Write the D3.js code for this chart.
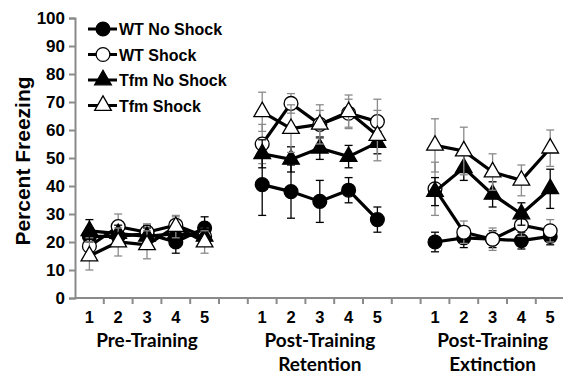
<!DOCTYPE html>
<html>
<head>
<meta charset="utf-8">
<script src="https://cdn.jsdelivr.net/npm/d3@7"></script>
<style>
  body { margin: 0; background: #fff; }
  svg { display: block; }
  .tick text { font-family: "Liberation Sans", Arial, sans-serif; font-weight: bold; }
</style>
</head>
<body>
<div class="container"></div>
<script>
// sessions within each phase, and the phase names under the axis
var sessions = ['1', '2', '3', '4', '5'];
var phases = [['Pre-Training'], ['Post-Training', 'Retention'], ['Post-Training', 'Extinction']];
var seriesNames = ['WT No Shock', 'WT Shock', 'Tfm No Shock', 'Tfm Shock'];
var yTicks = [0, 10, 20, 30, 40, 50, 60, 70, 80, 90, 100];

// percent freezing, 15 values each (3 phases x 5 sessions)
var wtNoShock      = [22, 22, 23, 20, 25,   40.5, 38, 34.5, 38.5, 28,   20, 21.5, 21, 20.5, 22];
var wtNoShockErr   = [3, 3, 3, 4, 4,        11, 9.5, 7.5, 4.5, 4.5,     3.5, 3.5, 3, 3, 3];
var wtShock        = [18.5, 25.5, 23.5, 26, 22,  55, 69.5, 62, 66, 63,  39, 23.5, 21, 26, 24];
var wtShockErr     = [3, 4.5, 3, 3, 3,      7, 3.5, 5, 5, 8,            9.5, 4, 4, 4, 4];
var tfmNoShock     = [24, 23, 22, 23, 22,   51.5, 49.5, 53.5, 50.5, 55.5,  38, 46.5, 37, 30, 39];
var tfmNoShockErr  = [4, 3, 3, 3, 3,        5, 4.5, 4, 4, 4,            5, 4.5, 4.5, 4, 7];
var tfmShock       = [15, 20, 19, 25.5, 20, 66.5, 60.5, 62, 66.5, 58,  54.5, 52.5, 45, 42, 53.5];
var tfmShockErr    = [5, 5, 5, 4, 4,        7, 8.5, 7, 6, 9,            9.5, 8.5, 6.5, 5.5, 6.5];

var width = 563, height = 374;
var svg = d3.select('.container').append('svg')
  .attr('width', width)
  .attr('height', height);

// 17 slots: 5 sessions, gap, 5 sessions, gap, 5 sessions
var slots = d3.range(17);
var x = d3.scaleBand().domain(slots).range([75, 75 + 17 * 28.8]);
var y = d3.scaleLinear().domain([0, 100]).range([298, 18]);

function slotOf(i) { return Math.floor(i / 5) * 6 + (i % 5); }
function cx(i) { return x(slotOf(i)) + x.bandwidth() / 2; }

// y axis
var yAxis = svg.append('g')
  .attr('transform', 'translate(75,0)')
  .call(d3.axisLeft(y).tickValues(yTicks).tickSize(6).tickPadding(4));
yAxis.selectAll('.tick text').style('font-size', '17px').attr('fill', '#000');

// x axis with ticks on band boundaries
var xAxisG = svg.append('g').attr('transform', 'translate(0,298)');
xAxisG.append('line')
  .attr('x1', 75).attr('x2', width)
  .attr('y1', 0).attr('y2', 0);
xAxisG.selectAll('line.xt')
  .data(slots.slice(1))
  .enter().append('line')
  .attr('class', 'xt')
  .attr('x1', function(d) { return x(d); })
  .attr('x2', function(d) { return x(d); })
  .attr('y1', 0).attr('y2', 6);

svg.selectAll('line').attr('stroke', '#8a8a8a').attr('stroke-width', 2);
yAxis.select('.domain').attr('stroke', '#8a8a8a').attr('stroke-width', 2);
yAxis.selectAll('.tick line').attr('stroke', '#8a8a8a').attr('stroke-width', 2);

// session labels
var labelIdx = d3.range(15);
svg.selectAll('text.sess')
  .data(labelIdx)
  .enter().append('text')
  .attr('class', 'sess')
  .attr('x', function(i) { return cx(i); })
  .attr('y', 323)
  .attr('text-anchor', 'middle')
  .style('font-family', '"Liberation Sans", Arial, sans-serif')
  .style('font-weight', 'bold')
  .style('font-size', '16.5px')
  .text(function(i) { return sessions[i % 5]; });

// phase labels
phases.forEach(function(lines, p) {
  lines.forEach(function(t, k) {
    svg.append('text')
      .attr('x', cx(p * 5 + 2))
      .attr('y', 347 + k * 24)
      .attr('text-anchor', 'middle')
      .style('font-family', 'Lato, "Open Sans", sans-serif')
      .style('font-weight', 'bold')
      .style('font-size', '19px')
      .text(t);
  });
});

// axis title
svg.append('text')
  .attr('transform', 'translate(30,161) rotate(-90)')
  .attr('text-anchor', 'middle')
  .style('font-family', '"Liberation Sans", Arial, sans-serif')
  .style('font-weight', 'bold')
  .style('font-size', '21px')
  .text('Percent Freezing');

var series = [
  { name: seriesNames[0], vals: wtNoShock, errs: wtNoShockErr, shape: 'circle', fill: '#000', errColor: '#000' },
  { name: seriesNames[1], vals: wtShock, errs: wtShockErr, shape: 'circle', fill: '#fff', errColor: '#8a8a8a' },
  { name: seriesNames[2], vals: tfmNoShock, errs: tfmNoShockErr, shape: 'triangle', fill: '#000', errColor: '#000' },
  { name: seriesNames[3], vals: tfmShock, errs: tfmShockErr, shape: 'triangle', fill: '#fff', errColor: '#8a8a8a' }
];

var circleSym = d3.symbol().type(d3.symbolCircle).size(150);
var triSym = d3.symbol().type(d3.symbolTriangle).size(120);

var line = d3.line()
  .x(function(d) { return cx(d.i); })
  .y(function(d) { return y(d.v); });

series.forEach(function(s) {
  var g = svg.append('g');
  var pts = s.vals.map(function(v, i) { return { i: i, v: v, e: s.errs[i] }; });

  // error bars
  var eb = g.selectAll('g.eb').data(pts).enter().append('g')
    .attr('stroke', s.errColor).attr('stroke-width', 1.3);
  eb.append('line')
    .attr('x1', function(d) { return cx(d.i); })
    .attr('x2', function(d) { return cx(d.i); })
    .attr('y1', function(d) { return y(d.v - d.e); })
    .attr('y2', function(d) { return y(d.v + d.e); });
  [-1, 1].forEach(function(sg) {
    eb.append('line')
      .attr('x1', function(d) { return cx(d.i) - 4; })
      .attr('x2', function(d) { return cx(d.i) + 4; })
      .attr('y1', function(d) { return y(d.v + sg * d.e); })
      .attr('y2', function(d) { return y(d.v + sg * d.e); });
  });

  // one line per phase
  d3.range(3).forEach(function(p) {
    g.append('path')
      .datum(pts.slice(p * 5, p * 5 + 5))
      .attr('d', line)
      .attr('fill', 'none')
      .attr('stroke', '#000')
      .attr('stroke-width', 3.2);
  });

  g.selectAll('path.mk').data(pts).enter().append('path')
    .attr('class', 'mk')
    .attr('d', s.shape === 'circle' ? circleSym : triSym)
    .attr('transform', function(d) { return 'translate(' + cx(d.i) + ',' + y(d.v) + ')'; })
    .attr('fill', s.fill)
    .attr('stroke', '#000')
    .attr('stroke-width', 1.3);
});

// legend
var legend = svg.append('g');
series.forEach(function(s, k) {
  var ly = 29 + k * 25.5;
  legend.append('line')
    .attr('x1', 88).attr('x2', 117)
    .attr('y1', ly).attr('y2', ly)
    .attr('stroke', '#000').attr('stroke-width', 3);
  legend.append('path')
    .attr('d', s.shape === 'circle' ? circleSym : triSym)
    .attr('transform', 'translate(103,' + ly + ')')
    .attr('fill', s.fill)
    .attr('stroke', '#000')
    .attr('stroke-width', 1.3);
  legend.append('text')
    .attr('x', 119)
    .attr('y', ly + 6)
    .style('font-family', '"Liberation Sans", Arial, sans-serif')
    .style('font-weight', 'bold')
    .style('font-size', '16px')
    .text(s.name);
});
</script>
</body>
</html>
